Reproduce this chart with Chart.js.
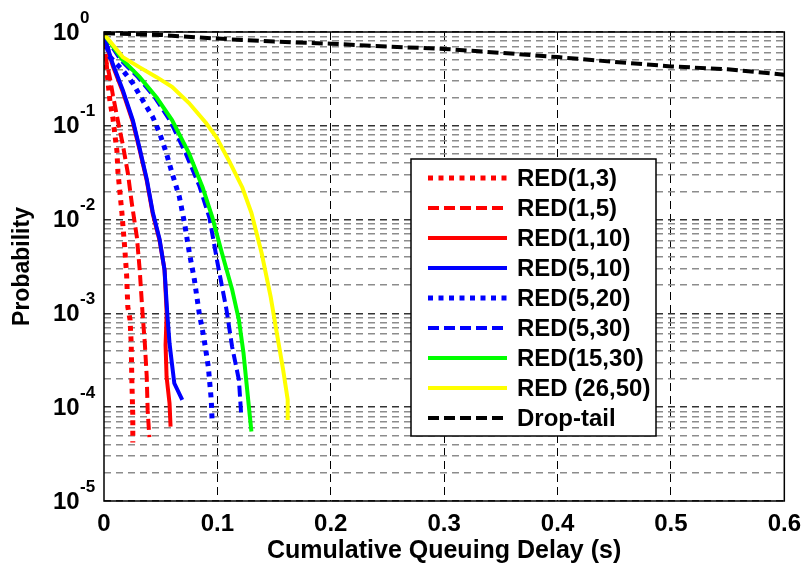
<!DOCTYPE html>
<html><head><meta charset="utf-8">
<script src="https://cdn.jsdelivr.net/npm/chart.js@4/dist/chart.umd.min.js"></script>
<style>html,body{margin:0;padding:0;background:#fff}#wrap{width:810px;height:574px}</style>
</head><body><div id="wrap"><canvas id="c" width="810" height="574"></canvas></div>
<script>
// ---- data ----
const seriesLabels = ['RED(1,3)','RED(1,5)','RED(1,10)','RED(5,10)','RED(5,20)','RED(5,30)','RED(15,30)','RED (26,50)','Drop-tail'];
const xTickLabels = ['0','0.1','0.2','0.3','0.4','0.5','0.6'];
const yTickExponents = [0,-1,-2,-3,-4,-5];

const red13X = [0, 0.0026, 0.0053, 0.0079, 0.0096, 0.0114, 0.0123, 0.0158, 0.0184, 0.020, 0.021, 0.023, 0.024, 0.0245, 0.0254, 0.0254];
const red13Y = [0.75, 0.38, 0.18, 0.12, 0.08, 0.054, 0.032, 0.0118, 0.0048, 0.0025, 0.00117, 0.00085, 0.00048, 0.00021, 0.000079, 0.000042];

const red15X = [0, 0.0009, 0.0053, 0.0079, 0.0123, 0.0166, 0.021, 0.0245, 0.029, 0.0315, 0.034, 0.036, 0.0377, 0.0385, 0.040];
const red15Y = [0.86, 0.57, 0.32, 0.21, 0.112, 0.063, 0.0315, 0.015, 0.0065, 0.0029, 0.001, 0.00048, 0.00021, 0.000093, 0.000048];

const red110X = [0, 0.0079, 0.0166, 0.0254, 0.0315, 0.0377, 0.043, 0.049, 0.0534, 0.0553, 0.0543, 0.0552, 0.0578, 0.0587];
const red110Y = [0.88, 0.43, 0.23, 0.11, 0.055, 0.026, 0.0115, 0.006, 0.0029, 0.001, 0.00046, 0.00021, 0.00011, 0.000062];

const red510X = [0, 0.0079, 0.0166, 0.0254, 0.0315, 0.0377, 0.043, 0.049, 0.0534, 0.056, 0.0578, 0.0595, 0.062, 0.069];
const red510Y = [0.9, 0.45, 0.24, 0.115, 0.057, 0.027, 0.012, 0.0062, 0.0029, 0.00092, 0.00048, 0.00032, 0.00018, 0.00012];

const red520X = [0, 0.0053, 0.0166, 0.0254, 0.034, 0.043, 0.049, 0.055, 0.060, 0.0665, 0.071, 0.0753, 0.0797, 0.084, 0.088, 0.092, 0.0946, 0.0954];
const red520Y = [0.9, 0.54, 0.39, 0.285, 0.188, 0.124, 0.084, 0.051, 0.0315, 0.0174, 0.0092, 0.0044, 0.0023, 0.001, 0.00056, 0.00027, 0.00012, 0.000068];

const red530X = [0, 0.015, 0.03, 0.045, 0.058, 0.072, 0.084, 0.093, 0.100, 0.108, 0.113, 0.119, 0.121];
const red530Y = [0.93, 0.50, 0.33, 0.20, 0.115, 0.051, 0.023, 0.0104, 0.0035, 0.0011, 0.00044, 0.000195, 0.000083];

const red1530X = [0, 0.0166, 0.0315, 0.0464, 0.060, 0.075, 0.087, 0.0954, 0.104, 0.113, 0.119, 0.123, 0.126, 0.130];
const red1530Y = [0.95, 0.50, 0.33, 0.20, 0.115, 0.051, 0.022, 0.0107, 0.0044, 0.0018, 0.00085, 0.00038, 0.000165, 0.000055];

const red2650X = [0, 0.0166, 0.0315, 0.0464, 0.060, 0.075, 0.090, 0.099, 0.110, 0.122, 0.130, 0.139, 0.147, 0.152, 0.158, 0.162, 0.162];
const red2650Y = [0.95, 0.54, 0.42, 0.33, 0.26, 0.175, 0.107, 0.076, 0.043, 0.022, 0.0118, 0.0044, 0.0015, 0.00066, 0.00025, 0.00012, 0.000073];

const dropTailX = [0, 0.05, 0.1, 0.15, 0.2, 0.25, 0.3, 0.35, 0.4, 0.45, 0.5, 0.55, 0.6];
const dropTailY = [0.97, 0.93, 0.85, 0.79, 0.75, 0.70, 0.66, 0.60, 0.54, 0.48, 0.43, 0.40, 0.35];

// ---- styles ----
const seriesX = [red13X, red15X, red110X, red510X, red520X, red530X, red1530X, red2650X, dropTailX];
const seriesY = [red13Y, red15Y, red110Y, red510Y, red520Y, red530Y, red1530Y, red2650Y, dropTailY];
const colors = ['#ff0000','#ff0000','#ff0000','#0000ff','#0000ff','#0000ff','#00ff00','#ffff00','#000000'];
const DOT = [5, 5.5], DASH = [11, 5], SOLID = [];
const dashes = [DOT, DASH, SOLID, SOLID, DOT, DASH, SOLID, SOLID, DASH];
const widths = [5, 4, 4, 4, 5, 4, 4, 4, 4];

const N = seriesLabels.length;
const datasets = seriesLabels.map((lab, i) => ({
  label: lab,
  data: seriesX[i].map((x, k) => ({x: x, y: seriesY[i][k]})),
  borderColor: colors[i],
  backgroundColor: colors[i],
  borderWidth: widths[i],
  borderDash: dashes[i],
  borderCapStyle: 'butt',
  borderJoinStyle: 'miter',
  pointRadius: 0,
  tension: 0,
  fill: false,
  order: N - i
}));

const FONT = 'Liberation Sans, Arial, sans-serif';

function isDecade(v){ const l = Math.log10(v); return Math.abs(l - Math.round(l)) < 1e-6; }

const overlay = {
  id: 'overlay',
  afterDraw(chart) {
    const {ctx, chartArea: a, scales: {y}} = chart;
    ctx.save();
    ctx.setLineDash([]);
    ctx.strokeStyle = '#000';
    ctx.lineWidth = 1.5;
    ctx.strokeRect(a.left, a.top, a.right - a.left, a.bottom - a.top);
    // y tick labels 10^n
    ctx.fillStyle = '#000';
    ctx.textAlign = 'left';
    ctx.textBaseline = 'middle';
    yTickExponents.forEach(e => {
      const py = y.getPixelForValue(Math.pow(10, e));
      ctx.font = 'bold 24px ' + FONT;
      ctx.fillText('10', 53, py + 1);
      ctx.font = 'bold 17px ' + FONT;
      ctx.fillText(String(e), 80, py - 14);
    });
    // legend
    const bx = 411, by = 159, bw = 245, bh = 277;
    ctx.fillStyle = '#fff';
    ctx.fillRect(bx, by, bw, bh);
    ctx.strokeStyle = '#000';
    ctx.lineWidth = 1.5;
    ctx.strokeRect(bx, by, bw, bh);
    chart.data.datasets.forEach((ds, i) => {
      const ry = 178 + 30 * i;
      ctx.beginPath();
      ctx.setLineDash(ds.borderDash);
      ctx.lineCap = 'butt';
      ctx.strokeStyle = ds.borderColor;
      ctx.lineWidth = ds.borderWidth;
      ctx.moveTo(428, ry);
      ctx.lineTo(507, ry);
      ctx.stroke();
      ctx.setLineDash([]);
      ctx.fillStyle = '#000';
      ctx.font = 'bold 24px ' + FONT;
      ctx.textBaseline = 'middle';
      ctx.fillText(ds.label, 517, ry + 1);
    });
    ctx.restore();
  }
};

new Chart(document.getElementById('c'), {
  type: 'line',
  data: { datasets: datasets },
  options: {
    responsive: false,
    animation: false,
    devicePixelRatio: 1,
    layout: { padding: { top: 32, right: 21, left: 0, bottom: 0 } },
    plugins: { legend: { display: false }, tooltip: { enabled: false } },
    scales: {
      x: {
        type: 'linear', min: 0, max: 0.6,
        ticks: {
          stepSize: 0.1,
          color: '#000',
          font: { family: FONT, size: 24, weight: 'bold' },
          padding: 9,
          maxRotation: 0,
          callback: (v, i) => xTickLabels[i]
        },
        grid: {
          drawTicks: false,
          lineWidth: 1,
          color: c => (c.tick && c.tick.value > 0.001 && c.tick.value < 0.599) ? '#000' : 'rgba(0,0,0,0)'
        },
        border: { display: false, dash: [8, 5] },
        title: {
          display: true, text: 'Cumulative Queuing Delay (s)', color: '#000',
          font: { family: FONT, size: 25, weight: 'bold' },
          padding: { top: 0, bottom: 8 }
        },
        afterFit: s => { s.height = 73; }
      },
      y: {
        type: 'logarithmic', min: 1e-5, max: 1,
        afterBuildTicks: s => {
          const t = [];
          for (let e = -5; e < 0; e++) for (let m = 1; m <= 9; m++) t.push({value: m * Math.pow(10, e)});
          t.push({value: 1});
          s.ticks = t;
        },
        ticks: { display: false, autoSkip: false },
        grid: {
          drawTicks: false,
          lineWidth: 1.5,
          color: c => (c.tick && isDecade(c.tick.value)) ? '#333' : '#8c8c8c'
        },
        border: { display: false, dash: [7, 5] },
        title: {
          display: true, text: 'Probability', color: '#000',
          font: { family: FONT, size: 23, weight: 'bold' },
          padding: { top: 9, bottom: 0 }
        },
        afterFit: s => { s.width = 104; }
      }
    }
  },
  plugins: [overlay]
});
</script>
</body></html>
